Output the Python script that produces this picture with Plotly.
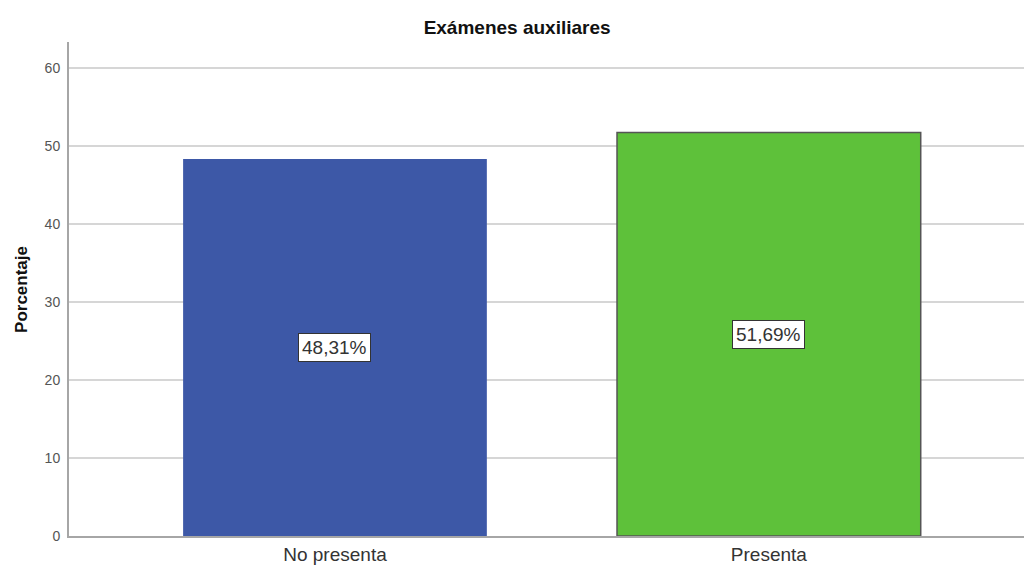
import plotly.graph_objects as go

categories = ["No presenta", "Presenta"]
values = [48.31, 51.69]
labels = ["48,31%", "51,69%"]
colors = ["#3D58A7", "#5EC13A"]
outline = ["rgba(0,0,0,0)", "#555555"]
y_ticks = [0, 10, 20, 30, 40, 50, 60]

FONT = "Liberation Sans, Arial, sans-serif"

fig = go.Figure()
fig.add_trace(go.Bar(
    x=categories, y=values, width=0.70,
    marker=dict(color=colors, line=dict(color=outline, width=1.5)),
    hoverinfo="skip",
))

for c, v, t in zip(categories, values, labels):
    fig.add_annotation(
        x=c, y=v / 2, xref="x", yref="y", text=t, showarrow=False,
        font=dict(family=FONT, size=19, color="#333333"),
        bgcolor="white", bordercolor="#333333", borderwidth=1, borderpad=3,
    )

fig.add_annotation(
    x=-0.0503, y=0.5, xref="paper", yref="paper", xanchor="center", yanchor="middle",
    text="<b>Porcentaje</b>", textangle=-90, showarrow=False,
    font=dict(family=FONT, size=17, color="#111111"),
)

fig.update_layout(
    width=1024, height=566,
    margin=dict(l=69, r=0, t=42, b=30),
    paper_bgcolor="white", plot_bgcolor="white",
    showlegend=False,
    title=dict(text="<b>Exámenes auxiliares</b>", x=0.505, xanchor="center",
               xref="container", y=0.952, yanchor="middle", yref="container",
               font=dict(family=FONT, size=19, color="#111111")),
    xaxis=dict(
        type="category", range=[-0.613, 1.588],
        showline=True, linecolor="#a6a6a6", linewidth=2,
        showgrid=False, ticks="",
        tickfont=dict(family=FONT, size=19, color="#333333"),
    ),
    yaxis=dict(
        range=[0, 63.3], tickvals=y_ticks,
        showline=True, linecolor="#a6a6a6", linewidth=2,
        showgrid=True, gridcolor="#d6d6d6", gridwidth=1.5,
        ticks="", zeroline=False, ticklabelstandoff=4,
        tickfont=dict(family=FONT, size=14, color="#555555"),
    ),
)

fig.write_html("out.html", config={"displayModeBar": False},
               post_script="document.body.style.margin='0';")
